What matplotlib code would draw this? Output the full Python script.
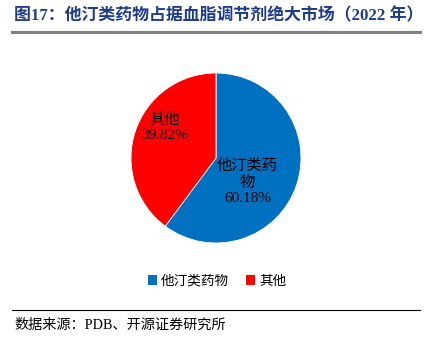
import matplotlib
matplotlib.use("Agg")
import matplotlib.pyplot as plt
from matplotlib.lines import Line2D
from matplotlib.patches import Patch

categories = ["他汀类药物", "其他"]
values = [60.18, 39.82]
colors = ["#0070C0", "#FF0000"]
title = "图17：他汀类药物占据血脂调节剂绝大市场（2022 年）"
source = "数据来源：PDB、开源证券研究所"

plt.rcParams['font.family'] = ['Liberation Serif', 'Noto Sans CJK SC', 'DejaVu Sans']

fig = plt.figure(figsize=(4.24, 3.37), dpi=100)
W, H = 424, 337

def fx(px):
    return px / W

def fy(py):
    return 1 - py / H

# title
fig.text(fx(14), fy(16), title, fontsize=12.2, fontweight='bold', color='#1F3C88',
         va='center', ha='left', family=['Liberation Serif', 'Noto Sans CJK SC'])
fig.add_artist(Line2D([fx(12), fx(420)], [fy(32), fy(32)], color='#7F7F7F', lw=2.2))

# pie
cx, cy, r = 216, 158, 85
ax = fig.add_axes([fx(cx - r), fy(cy + r), 2 * r / W, 2 * r / H])
wedges, _ = ax.pie(values, colors=colors, startangle=90, counterclock=False,
                   wedgeprops=dict(edgecolor='white', linewidth=0.6))
ax.set_xlim(-1, 1)
ax.set_ylim(-1, 1)
ax.set_aspect('auto')
ax.axis('off')

ax.text(-0.6, 0.36, f"{categories[1]}\n{values[1]:.2f}%", ha='center', va='center',
        fontsize=11, color='black', linespacing=1.25)
ax.text(0.37, -0.28, f"他汀类药\n物\n{values[0]:.2f}%", ha='center', va='center',
        fontsize=11, color='black', linespacing=1.25)

# legend
handles = [Patch(facecolor=c, edgecolor='none') for c in colors]
fig.legend(handles, categories, loc='center', bbox_to_anchor=(fx(217), fy(281)), ncol=2,
           frameon=False, fontsize=9.8, handlelength=0.7, handleheight=0.7,
           handletextpad=0.3, columnspacing=1.2)

# bottom line and source
fig.add_artist(Line2D([fx(12), fx(420)], [fy(310), fy(310)], color='black', lw=0.8))
fig.text(fx(14), fy(325), source, fontsize=10.2, color='black', va='center', ha='left')

fig.savefig("out.png", dpi=100)
